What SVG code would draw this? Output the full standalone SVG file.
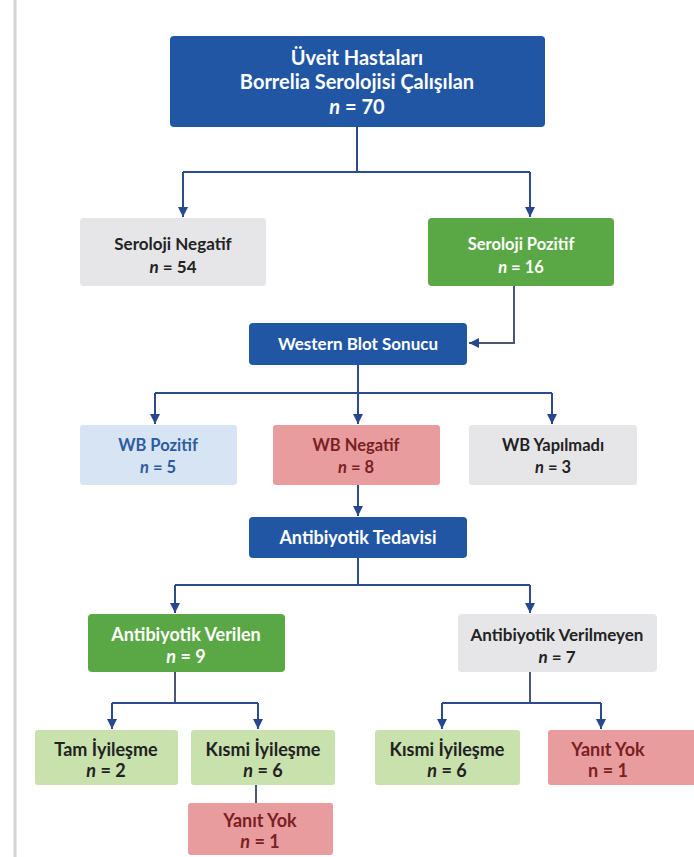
<svg xmlns="http://www.w3.org/2000/svg" width="694" height="857" viewBox="0 0 694 857">
<defs>
<marker id="ah" viewBox="0 0 10 10" refX="10" refY="5" markerWidth="10" markerHeight="10" markerUnits="userSpaceOnUse" orient="auto">
<path d="M0,0 L10,5 L0,10 z" fill="#27478f"/>
</marker>
</defs>
<style>
text{font-family:Lato,"Open Sans","Liberation Sans",sans-serif;font-weight:bold;text-anchor:middle}
.blue{fill:#2156a5}
.green{fill:#5aa845}
.gray{fill:#e6e6e8}
.lblue{fill:#d6e4f4}
.pink{fill:#e99c9e}
.lgreen{fill:#c8e1ad}
.w{fill:#ffffff}
.d{fill:#222222}
.bt{fill:#2d5b9f}
.rt{fill:#7a1f22}
.c{fill:none;stroke:#2b4b8e;stroke-width:2}
.cg{fill:none;stroke:#4a5572;stroke-width:2}
</style>
<rect x="0" y="0" width="694" height="857" fill="#ffffff"/>
<line x1="15" y1="0" x2="15" y2="857" stroke="#d4d4d4" stroke-width="3"/>

<g id="connectors">
<path class="c" d="M357,127 V172 M183,172 H530" />
<path class="c" d="M183,172 V217" marker-end="url(#ah)"/>
<path class="c" d="M530,172 V217" marker-end="url(#ah)"/>
<path class="cg" d="M514,286 V343 H469" marker-end="url(#ah)"/>
<path class="c" d="M358,365 V393 M155,393 H552"/>
<path class="c" d="M155,393 V424" marker-end="url(#ah)"/>
<path class="c" d="M358,393 V424" marker-end="url(#ah)"/>
<path class="c" d="M552,393 V424" marker-end="url(#ah)"/>
<path class="c" d="M358,485 V516" marker-end="url(#ah)"/>
<path class="c" d="M358,558 V585 M175,585 H530"/>
<path class="c" d="M175,585 V613" marker-end="url(#ah)"/>
<path class="c" d="M530,585 V613" marker-end="url(#ah)"/>
<path class="cg" d="M175,672 V703"/>
<path class="c" d="M112,703 H258"/>
<path class="c" d="M112,703 V729" marker-end="url(#ah)"/>
<path class="c" d="M258,703 V729" marker-end="url(#ah)"/>
<path class="cg" d="M530,672 V703"/>
<path class="c" d="M442,703 H601"/>
<path class="c" d="M442,703 V729" marker-end="url(#ah)"/>
<path class="c" d="M601,703 V729" marker-end="url(#ah)"/>
<path class="cg" d="M256,785 V803"/>
</g>

<g id="n_top">
<rect class="blue" x="170" y="36" width="375" height="91" rx="4"/>
<text class="w" x="357" y="65" font-size="20">Üveit Hastaları</text>
<text class="w" x="357" y="89" font-size="20">Borrelia Serolojisi Çalışılan</text>
<text class="w" x="357" y="114" font-size="20"><tspan font-style="italic">n</tspan> = 70</text>
</g>

<g id="n_serneg">
<rect class="gray" x="80" y="218" width="186" height="68" rx="4"/>
<text class="d" x="173" y="250" font-size="17">Seroloji Negatif</text>
<text class="d" x="173" y="273" font-size="17"><tspan font-style="italic">n</tspan> = 54</text>
</g>

<g id="n_serpos">
<rect class="green" x="428" y="218" width="186" height="68" rx="4"/>
<text class="w" x="521" y="250" font-size="16.5">Seroloji Pozitif</text>
<text class="w" x="521" y="273" font-size="16.5"><tspan font-style="italic">n</tspan> = 16</text>
</g>

<g id="n_wb">
<rect class="blue" x="249" y="323" width="218" height="42" rx="4"/>
<text class="w" x="358" y="350" font-size="17">Western Blot Sonucu</text>
</g>

<g id="n_wbpos">
<rect class="lblue" x="80" y="425" width="157" height="60" rx="3"/>
<text class="bt" x="158" y="451" font-size="16.5">WB Pozitif</text>
<text class="bt" x="158" y="473" font-size="16.5"><tspan font-style="italic">n</tspan> = 5</text>
</g>

<g id="n_wbneg">
<rect class="pink" x="273" y="425" width="167" height="60" rx="3"/>
<text class="rt" x="356" y="451" font-size="16.5">WB Negatif</text>
<text class="rt" x="356" y="473" font-size="16.5"><tspan font-style="italic">n</tspan> = 8</text>
</g>

<g id="n_wbnot">
<rect class="gray" x="469" y="425" width="168" height="60" rx="3"/>
<text class="d" x="553" y="451" font-size="16.5">WB Yapılmadı</text>
<text class="d" x="553" y="473" font-size="16.5"><tspan font-style="italic">n</tspan> = 3</text>
</g>

<g id="n_ab">
<rect class="blue" x="249" y="517" width="218" height="41" rx="4"/>
<text class="w" x="358" y="544" font-size="18">Antibiyotik Tedavisi</text>
</g>

<g id="n_abyes">
<rect class="green" x="88" y="614" width="197" height="58" rx="4"/>
<text class="w" x="186" y="641" font-size="18">Antibiyotik Verilen</text>
<text class="w" x="186" y="663" font-size="18"><tspan font-style="italic">n</tspan> = 9</text>
</g>

<g id="n_abno">
<rect class="gray" x="458" y="614" width="199" height="58" rx="4"/>
<text class="d" x="557" y="641" font-size="17">Antibiyotik Verilmeyen</text>
<text class="d" x="557" y="663" font-size="17"><tspan font-style="italic">n</tspan> = 7</text>
</g>

<g id="n_tam">
<rect class="lgreen" x="35" y="730" width="143" height="55" rx="3"/>
<text class="d" x="106" y="756" font-size="18">Tam İyileşme</text>
<text class="d" x="106" y="777" font-size="18"><tspan font-style="italic">n</tspan> = 2</text>
</g>

<g id="n_kismi1">
<rect class="lgreen" x="191" y="730" width="144" height="55" rx="3"/>
<text class="d" x="263" y="756" font-size="18">Kısmi İyileşme</text>
<text class="d" x="263" y="777" font-size="18"><tspan font-style="italic">n</tspan> = 6</text>
</g>

<g id="n_yok1">
<rect class="pink" x="188" y="803" width="145" height="52" rx="3"/>
<text class="rt" x="260" y="827" font-size="18">Yanıt Yok</text>
<text class="rt" x="260" y="848" font-size="18"><tspan font-style="italic">n</tspan> = 1</text>
</g>

<g id="n_kismi2">
<rect class="lgreen" x="375" y="730" width="145" height="55" rx="3"/>
<text class="d" x="447" y="756" font-size="18">Kısmi İyileşme</text>
<text class="d" x="447" y="777" font-size="18"><tspan font-style="italic">n</tspan> = 6</text>
</g>

<g id="n_yok2">
<rect class="pink" x="548" y="730" width="150" height="55" rx="3"/>
<text class="rt" x="608" y="756" font-size="18">Yanıt Yok</text>
<text class="rt" x="608" y="777" font-size="18">n = 1</text>
</g>
</svg>
